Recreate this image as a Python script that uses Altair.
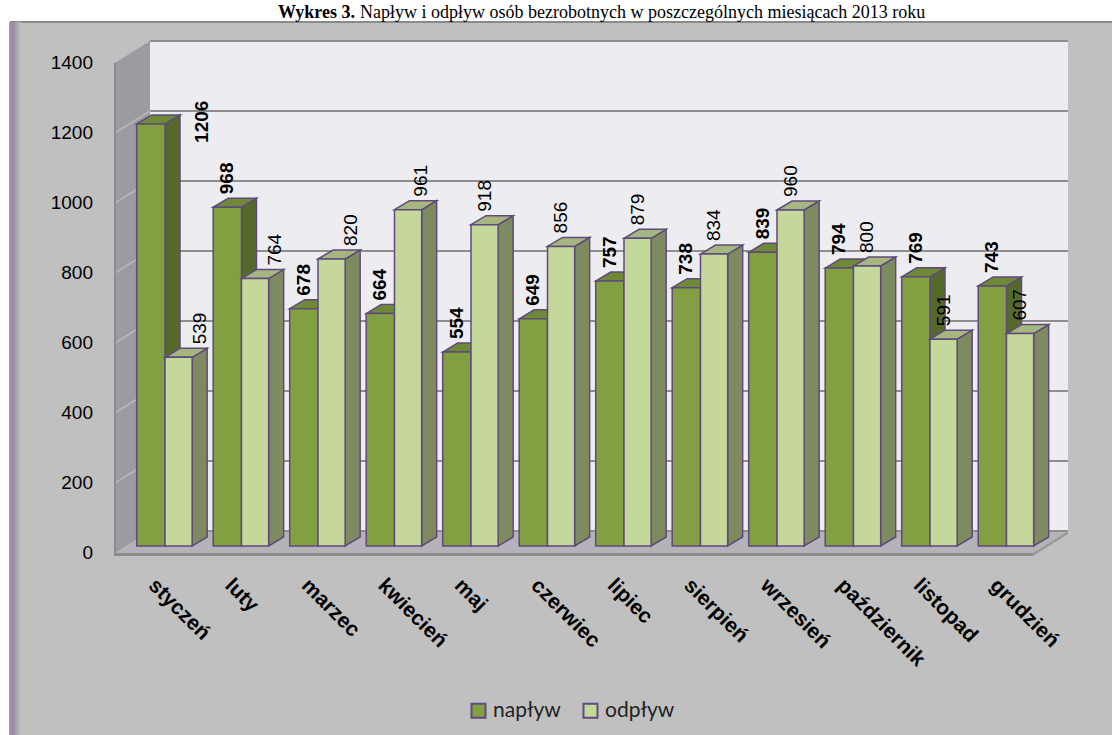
import altair as alt
import pandas as pd

# ---------------- data ----------------
months = ["styczeń", "luty", "marzec", "kwiecień", "maj", "czerwiec", "lipiec",
          "sierpień", "wrzesień", "październik", "listopad", "grudzień"]
naplyw = [1206, 968, 678, 664, 554, 649, 757, 738, 839, 794, 769, 743]
odplyw = [539, 764, 820, 961, 918, 856, 879, 834, 960, 800, 591, 607]
series_names = ["napływ", "odpływ"]
y_ticks = [0, 200, 400, 600, 800, 1000, 1200, 1400]
title_bold = "Wykres 3."
title_rest = "Napływ i odpływ osób bezrobotnych w poszczególnych miesiącach 2013 roku"

# ---------------- layout (pseudo-3D geometry) ----------------
PX_CAT = 76.5          # pixels per category
PX_UNIT = 0.35         # pixels per value unit
VIEW_W, VIEW_H = 953, 531
PAD = {"left": 115, "top": 22, "right": 44, "bottom": 182}
X0 = -50 / PX_CAT
XDOM = [X0, X0 + VIEW_W / PX_CAT]
YDOM = [0, VIEW_H / PX_UNIT]
BASE = 7 / PX_UNIT
BDX, BDY = 15 / PX_CAT, 9 / PX_UNIT
FDX, FDY = 35 / PX_CAT, 22 / PX_UNIT
FL, FR = X0, X0 + 12
YMAX = y_ticks[-1]
BAR_W = {"napływ": (-0.37, 0.0), "odpływ": (0.0, 0.355)}
# manual label placement nudges (pixels right, pixels up), as in the source chart
LABEL_NUDGE = {("napływ", 0): (51, -32), ("odpływ", 0): (21, 0), ("odpływ", 1): (20, 0),
               ("odpływ", 2): (19, 0), ("odpływ", 3): (13, 0)}

C = {
    "panel": "#c0c0c0", "wall": "#edecf1", "side_wall": "#9d9ba2", "floor": "#b5b3b9",
    "edge": "#8c8c8c", "grid": "#8e8e8e", "wall_grid": "#b8b6bc", "stroke": "#604a7b",
    "napływ": "#82a041", "napływ_side": "#55692b", "napływ_top": "#6e8a37",
    "odpływ": "#c5d89c", "odpływ_side": "#7e8a60", "odpływ_top": "#a6b680",
}
FONT = "Liberation Sans"

xs = alt.Scale(domain=XDOM, nice=False, zero=False)
ys = alt.Scale(domain=YDOM, nice=False, zero=False)


def X(f):
    return alt.X(f, type="quantitative", scale=xs, axis=None)


def Y(f):
    return alt.Y(f, type="quantitative", scale=ys, axis=None)


one = pd.DataFrame({"k": [0]})

# ---------------- decoration ----------------
panel = alt.Chart(one).mark_rect(color=C["panel"]).encode(
    x=alt.value(-105), x2=alt.value(VIEW_W + PAD["right"]), y=alt.value(0),
    y2=alt.value(VIEW_H + PAD["bottom"]))
panel_top = alt.Chart(one).mark_rule(color="#8a8a8a", strokeWidth=2).encode(
    x=alt.value(-105), x2=alt.value(VIEW_W + PAD["right"]), y=alt.value(0))
stripe = alt.Chart(one).mark_rect(
    color=alt.LinearGradient(
        gradient="linear", x1=0, x2=1, y1=0, y2=0,
        stops=[alt.GradientStop(color="#a79eb3", offset=0),
               alt.GradientStop(color="#958aa2", offset=0.3),
               alt.GradientStop(color=C["panel"], offset=1)])
).encode(x=alt.value(-106), x2=alt.value(-94), y=alt.value(0),
         y2=alt.value(VIEW_H + PAD["bottom"]))

title_df = pd.DataFrame({"a": [title_bold], "b": [title_rest]})
title1 = alt.Chart(title_df).mark_text(
    font="Liberation Serif", fontSize=18, fontWeight="bold", align="right",
    baseline="alphabetic", color="black").encode(
    x=alt.value(240), y=alt.value(-4), text="a:N")
title2 = alt.Chart(title_df).mark_text(
    font="Liberation Serif", fontSize=18, align="left",
    baseline="alphabetic", color="black").encode(
    x=alt.value(245), y=alt.value(-4), text="b:N")

# floor
floor_df = pd.DataFrame({"x": [FL, FL + FDX, FR, FR + FDX],
                         "y": [0, FDY, FDY, FDY], "y2": [0, 0, 0, FDY]})
floor = alt.Chart(floor_df).mark_area(color=C["floor"], orient="vertical").encode(
    x=X("x"), y=Y("y"), y2="y2")
thick = 3 / PX_UNIT
floor_front = alt.Chart(pd.DataFrame({"x": [FL], "x2": [FR], "y": [-thick], "y2": [0]})).mark_rect(
    color=C["edge"]).encode(x=X("x"), x2="x2", y=Y("y"), y2="y2")
floor_rside = alt.Chart(pd.DataFrame({"x": [FR, FR + FDX], "y": [0, FDY], "y2": [-thick, FDY - thick]})).mark_area(
    color="#9a9a9a", orient="vertical").encode(x=X("x"), y=Y("y"), y2="y2")

# back wall
back = alt.Chart(pd.DataFrame({"x": [FL + FDX], "x2": [XDOM[1]], "y": [FDY], "y2": [YMAX + FDY]})).mark_rect(
    color=C["wall"]).encode(x=X("x"), x2="x2", y=Y("y"), y2="y2")
grid_df = pd.DataFrame({"x": [FL + FDX] * len(y_ticks), "x2": [XDOM[1]] * len(y_ticks),
                        "y": [t + FDY for t in y_ticks]})
back_grid = alt.Chart(grid_df).mark_rule(color=C["grid"], strokeWidth=2).encode(
    x=X("x"), x2="x2", y=Y("y"))

# left wall
lw_df = pd.DataFrame({"x": [FL, FL + FDX], "y": [YMAX, YMAX + FDY], "y2": [0, FDY]})
left_wall = alt.Chart(lw_df).mark_area(color=C["side_wall"], orient="vertical").encode(
    x=X("x"), y=Y("y"), y2="y2")
lg_rows = []
for t in y_ticks[1:-1]:
    lg_rows.append({"t": t, "x": FL, "y": t})
    lg_rows.append({"t": t, "x": FL + FDX, "y": t + FDY})
left_grid = alt.Chart(pd.DataFrame(lg_rows)).mark_line(color=C["wall_grid"], strokeWidth=1.5).encode(
    x=X("x"), y=Y("y"), detail="t:N")
left_edge = alt.Chart(pd.DataFrame({"x": [FL], "y": [-thick], "y2": [YMAX]})).mark_rule(
    color=C["edge"], strokeWidth=2).encode(x=X("x"), y=Y("y"), y2="y2")

# value-axis labels along the front-left edge
yl_df = pd.DataFrame({"x": [FL] * len(y_ticks), "y": y_ticks, "t": [str(t) for t in y_ticks]})
y_labels = alt.Chart(yl_df).mark_text(
    align="right", baseline="middle", dx=-22, font=FONT, fontSize=19, color="black").encode(
    x=X("x"), y=Y("y"), text="t:N")

# ---------------- bars ----------------
bar_layers = []
label_layers = []
for s, vals in zip(series_names, [naplyw, odplyw]):
    w0, w1 = BAR_W[s]
    front_rows, side_rows, top_rows, lab_rows = [], [], [], []
    for i, (m, v) in enumerate(zip(months, vals)):
        top = BASE + v
        front_rows.append({"month": m, "series": s, "value": v,
                           "x0": i + w0, "x1": i + w1, "y0": BASE, "y1": top})
        side_rows += [
            {"k": m, "x": i + w1, "y": top, "y2": BASE},
            {"k": m, "x": i + w1 + BDX, "y": top + BDY, "y2": BASE + BDY},
        ]
        top_rows += [
            {"k": m, "x": i + w0, "y": top, "y2": top},
            {"k": m, "x": i + w0 + BDX, "y": top + BDY, "y2": top},
            {"k": m, "x": i + w1, "y": top + BDY, "y2": top},
            {"k": m, "x": i + w1 + BDX, "y": top + BDY, "y2": top + BDY},
        ]
        nx, ny = LABEL_NUDGE.get((s, i), (0, 0))
        lab_rows.append({"x": i + (w0 + w1) / 2 + nx / PX_CAT, "y": top + ny / PX_UNIT,
                         "label": str(v)})
    side = alt.Chart(pd.DataFrame(side_rows)).mark_area(
        color=C[s + "_side"], stroke=C["stroke"], strokeWidth=1.5, orient="vertical").encode(
        x=X("x"), y=Y("y"), y2="y2", detail="k:N")
    topf = alt.Chart(pd.DataFrame(top_rows)).mark_area(
        color=C[s + "_top"], stroke=C["stroke"], strokeWidth=1.5, orient="vertical").encode(
        x=X("x"), y=Y("y"), y2="y2", detail="k:N")
    front = alt.Chart(pd.DataFrame(front_rows)).mark_rect(
        stroke=C["stroke"], strokeWidth=1.5).encode(
        x=X("x0"), x2="x1", y=Y("y1"), y2="y0",
        color=alt.Color("series:N", scale=alt.Scale(domain=series_names,
                                                    range=[C["napływ"], C["odpływ"]]),
                        legend=alt.Legend(title=None, orient="none", legendX=353, legendY=678,
                                          direction="horizontal", symbolType="square",
                                          symbolSize=196, symbolStrokeColor=C["stroke"],
                                          symbolStrokeWidth=2, labelFont="Lato",
                                          labelFontSize=21, labelColor="#222222",
                                          columnPadding=18, labelOffset=4, padding=0,
                                          symbolOpacity=1)))
    bar_layers += [side, topf, front]
    lab = alt.Chart(pd.DataFrame(lab_rows)).mark_text(
        angle=270, align="left", baseline="middle", dx=13, font=FONT, fontSize=19,
        fontWeight="bold" if s == series_names[0] else "normal", color="black").encode(
        x=X("x"), y=Y("y"), text="label:N")
    label_layers.append(lab)

# month labels
mdf = pd.DataFrame({"x": [i - 0.07 for i in range(len(months))],
                    "y": [-62] * len(months), "month": months})
month_labels = alt.Chart(mdf).mark_text(
    angle=45, align="left", baseline="top", font=FONT, fontSize=21, fontWeight="bold",
    color="black").encode(x=X("x"), y=Y("y"), text="month:N")

chart = alt.layer(
    panel, panel_top, stripe, title1, title2,
    floor, floor_front, floor_rside, back, back_grid, left_wall, left_grid, left_edge,
    y_labels, *bar_layers, *label_layers, month_labels
).properties(
    width=VIEW_W, height=VIEW_H, padding=PAD,
    autosize=alt.AutoSizeParams(type="none"), background="white"
).configure_view(stroke=None)

chart.save("out.html", embed_options={"renderer": "svg", "actions": False})
